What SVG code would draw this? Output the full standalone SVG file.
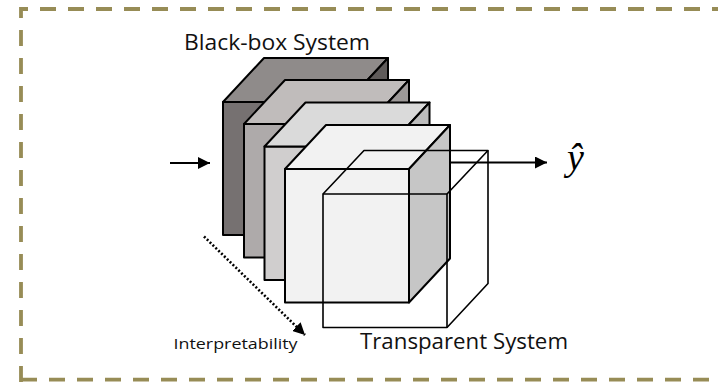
<svg xmlns="http://www.w3.org/2000/svg" width="718" height="382" viewBox="0 0 718 382">
  <style>
    .frame { fill: none; stroke: #978c56; stroke-width: 3.8; stroke-dasharray: 16 12; }
    .edge { stroke: #000; stroke-width: 2; stroke-linejoin: round; }
    .glass { fill: none; stroke: #000; stroke-width: 1.6; stroke-linejoin: round; }
    .label { font-family: "Open Sans", "Liberation Sans", sans-serif; fill: #111; }
    .wire { stroke: #000; stroke-width: 2.2; fill: none; }
    .dots { stroke: #000; stroke-width: 2.6; fill: none; stroke-dasharray: 2 2; }
  </style>
  <defs>
    <marker id="head" markerUnits="userSpaceOnUse" markerWidth="14" markerHeight="12" refX="12" refY="6" orient="auto">
      <path d="M0,0 L12,6 L0,12 Z" fill="#000"/>
    </marker>
  </defs>
  <rect width="718" height="382" fill="#fff"/>

  <!-- dashed frame (left, top, bottom; open to the right) -->
  <path class="frame" d="M21,382 V9 H720"/>
  <path class="frame" d="M21,379.6 H720"/>

  <!-- stacked systems, darkest at the back -->
  <g id="box1">
    <path class="edge" fill="#767171" d="M223,102 H347 V235 H223 Z"/>
    <path class="edge" fill="#8f8b8a" d="M223,102 L264,58 H388 L347,102 Z"/>
    <path class="edge" fill="#5f5b5a" d="M347,102 L388,58 V191 L347,235 Z"/>
  </g>
  <g id="box2">
    <path class="edge" fill="#aeaaaa" d="M244,124 H368 V257.5 H244 Z"/>
    <path class="edge" fill="#c0bcbb" d="M244,124 L285,80 H409 L368,124 Z"/>
    <path class="edge" fill="#9d9998" d="M368,124 L409,80 V213.5 L368,257.5 Z"/>
  </g>
  <g id="box3">
    <path class="edge" fill="#d0cece" d="M264.5,146.5 H388.5 V280 H264.5 Z"/>
    <path class="edge" fill="#dadada" d="M264.5,146.5 L305.5,102.5 H429.5 L388.5,146.5 Z"/>
    <path class="edge" fill="#bdbdbd" d="M388.5,146.5 L429.5,102.5 V236 L388.5,280 Z"/>
  </g>
  <g id="box4">
    <path class="edge" fill="#f2f2f2" d="M285,169 H409 V302.5 H285 Z"/>
    <path class="edge" fill="#f2f2f2" d="M285,169 L326,125 H450 L409,169 Z"/>
    <path class="edge" fill="#c6c6c6" d="M409,169 L450,125 V258.5 L409,302.5 Z"/>
  </g>
  <g id="transparent-box">
    <path class="glass" d="M323,194 H447 V327.5 H323 Z"/>
    <path class="glass" d="M323,194 L364,150.5 H488 L447,194"/>
    <path class="glass" d="M488,150.5 V283.5 L447,327.5"/>
  </g>

  <!-- connectors -->
  <g id="connectors">
    <line class="wire" x1="170" y1="163" x2="210" y2="163" marker-end="url(#head)"/>
    <line class="wire" x1="450" y1="162.5" x2="547" y2="162.5" marker-end="url(#head)"/>
    <line class="dots" x1="204" y1="236.5" x2="305" y2="335" marker-end="url(#head)"/>
  </g>

  <!-- labels -->
  <g id="label-blackbox">
    <text class="label" x="184" y="50" font-size="22" textLength="186" lengthAdjust="spacingAndGlyphs">Black-box System</text>
  </g>
  <g id="label-transparent">
    <text class="label" x="360" y="348.5" font-size="22.5" textLength="208" lengthAdjust="spacingAndGlyphs">Transparent System</text>
  </g>
  <g id="label-interpretability">
    <text class="label" x="173.5" y="348.5" font-size="15" textLength="124" lengthAdjust="spacingAndGlyphs">Interpretability</text>
  </g>
  <g id="label-output">
    <text x="567" y="170" font-family="'Liberation Serif', serif" font-style="italic" font-size="38" fill="#000">ŷ</text>
  </g>
</svg>
